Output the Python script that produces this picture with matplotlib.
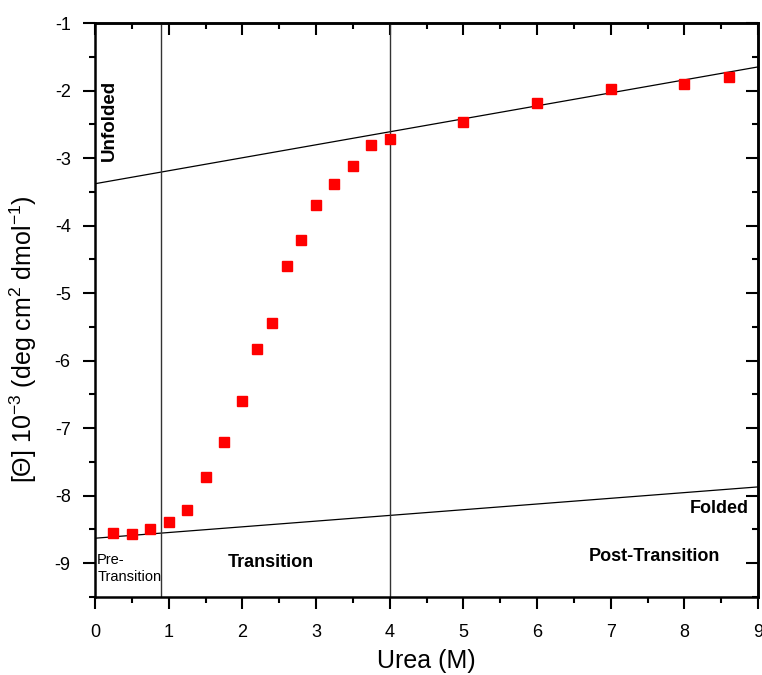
import matplotlib
matplotlib.use("Agg")
import matplotlib.pyplot as plt
from matplotlib.ticker import MultipleLocator

plt.rcParams['font.family'] = ['Liberation Sans', 'DejaVu Sans']
plt.rcParams['axes.unicode_minus'] = False
plt.rcParams['mathtext.default'] = 'regular'

# urea concentration (M) and ellipticity [Theta] x 10^-3
urea = [0.25, 0.5, 0.75, 1.0, 1.25, 1.5, 1.75, 2.0, 2.2, 2.4, 2.6, 2.8,
        3.0, 3.25, 3.5, 3.75, 4.0, 5.0, 6.0, 7.0, 8.0, 8.6]
theta = [-8.56, -8.57, -8.50, -8.39, -8.21, -7.73, -7.21, -6.60, -5.83, -5.44,
         -4.60, -4.22, -3.69, -3.39, -3.12, -2.81, -2.72, -2.47, -2.19, -1.98,
         -1.90, -1.80]

# baselines (linear fits)
unfolded_x = [0, 9]
unfolded_y = [-3.38, -1.65]
folded_x = [0, 9]
folded_y = [-8.63, -7.87]

# transition region boundaries
boundaries = [0.9, 4.0]

fig = plt.figure(figsize=(7.62, 6.75), dpi=100)
ax = fig.add_axes([0.1247, 0.1156, 0.8701, 0.8503])

ax.plot(unfolded_x, unfolded_y, color='black', lw=0.9)
ax.plot(folded_x, folded_y, color='black', lw=0.9)
for b in boundaries:
    ax.axvline(b, color='#333333', lw=1.0)

ax.plot(urea, theta, 's', color='red', ms=7.5, mec='red', zorder=3)

ax.set_xlim(0, 9)
ax.set_ylim(-9.5, -1)

ax.xaxis.set_major_locator(MultipleLocator(1))
ax.xaxis.set_minor_locator(MultipleLocator(0.5))
ax.yaxis.set_major_locator(MultipleLocator(1))
ax.yaxis.set_minor_locator(MultipleLocator(0.5))
ax.tick_params(which='both', direction='out', width=1.5, labelsize=13)
ax.tick_params(which='major', length=8.5)
ax.tick_params(which='minor', length=4)
ax.tick_params(axis='x', pad=11)
ax.tick_params(axis='y', pad=9)

# mirrored ticks pointing inward on top and right
top = ax.secondary_xaxis('top')
right = ax.secondary_yaxis('right')
top.xaxis.set_major_locator(MultipleLocator(1))
top.xaxis.set_minor_locator(MultipleLocator(0.5))
right.yaxis.set_major_locator(MultipleLocator(1))
right.yaxis.set_minor_locator(MultipleLocator(0.5))
for a in (top, right):
    a.tick_params(which='both', direction='in', width=1.5, labeltop=False,
                  labelright=False)
    a.tick_params(which='major', length=8.5)
    a.tick_params(which='minor', length=4)
    for s in a.spines.values():
        s.set_linewidth(1.8)

for s in ax.spines.values():
    s.set_linewidth(1.8)

ax.set_xlabel('Urea (M)', fontsize=18, labelpad=6)
ax.set_ylabel('[Θ] 10$^{-3}$ (deg cm$^{2}$ dmol$^{-1}$)', fontsize=18)
ax.yaxis.set_label_coords(-0.085, 0.45)

ax.text(0.2, -2.44, 'Unfolded', rotation=90, fontsize=13.5, fontweight='bold',
        ha='center', va='center')
ax.text(8.48, -8.19, 'Folded', fontsize=13, fontweight='bold',
        ha='center', va='center')
ax.text(2.39, -8.99, 'Transition', fontsize=13, fontweight='bold',
        ha='center', va='center')
ax.text(7.6, -8.9, 'Post-Transition', fontsize=13, fontweight='bold',
        ha='center', va='center')
ax.text(0.03, -9.08, 'Pre-\nTransition', fontsize=10.5, ha='left', va='center',
        linespacing=1.25)

fig.savefig('out.png', dpi=100)
